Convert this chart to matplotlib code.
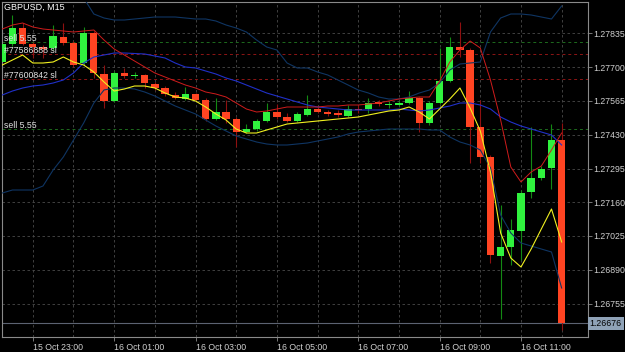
import numpy as np
import pandas as pd
import matplotlib.pyplot as plt
from matplotlib.transforms import blended_transform_factory

# GBPUSD M15 bars, 15 Oct 22:15 .. 16 Oct 12:00
bar_times = pd.date_range('2024-10-15 22:15', '2024-10-16 12:00', freq='15min')

opens = [1.27721, 1.27793, 1.27857, 1.27793, 1.27781, 1.27777, 1.27821, 1.27797, 1.27717, 1.27837,
         1.27673, 1.27565, 1.27677, 1.27667, 1.27669, 1.27633, 1.27617, 1.27589, 1.27573, 1.27593,
         1.27569, 1.27493, 1.27521, 1.27493, 1.27441, 1.27453, 1.27485, 1.27521, 1.27501, 1.27485,
         1.27509, 1.27533, 1.27519, 1.27517, 1.27505, 1.27533, 1.27533, 1.27561, 1.27551, 1.27549,
         1.27557, 1.27577, 1.27477, 1.27557, 1.27645, 1.27781, 1.27769, 1.27461, 1.27341, 1.26945,
         1.26981, 1.27045, 1.27201, 1.27257, 1.27297, 1.27409]
highs = [1.27809, 1.27909, 1.27877, 1.27801, 1.27789, 1.27869, 1.27877, 1.27805, 1.27861, 1.27845,
         1.27709, 1.27685, 1.27697, 1.27681, 1.27673, 1.27641, 1.27625, 1.27601, 1.27621, 1.27597,
         1.27577, 1.27577, 1.27569, 1.27501, 1.27473, 1.27493, 1.27557, 1.27553, 1.27517, 1.27521,
         1.27589, 1.27541, 1.27529, 1.27529, 1.27549, 1.27549, 1.27577, 1.27569, 1.27565, 1.27565,
         1.27605, 1.27581, 1.27565, 1.27777, 1.27821, 1.27881, 1.27777, 1.27569, 1.27349, 1.27149,
         1.27093, 1.27209, 1.27461, 1.27305, 1.27473, 1.27477]
lows = [1.27713, 1.27785, 1.27789, 1.27737, 1.27737, 1.27769, 1.27789, 1.27701, 1.27709, 1.27657,
        1.27537, 1.27561, 1.27657, 1.27657, 1.27617, 1.27609, 1.27585, 1.27573, 1.27569, 1.27565,
        1.27485, 1.27489, 1.27477, 1.27381, 1.27437, 1.27445, 1.27481, 1.27493, 1.27481, 1.27481,
        1.27505, 1.27517, 1.27505, 1.27501, 1.27501, 1.27517, 1.27517, 1.27545, 1.27537, 1.27545,
        1.27553, 1.27441, 1.27469, 1.27553, 1.27641, 1.27741, 1.27317, 1.27317, 1.26917, 1.26693,
        1.26909, 1.26929, 1.27177, 1.27249, 1.27213, 1.26649]
closes = [1.27793, 1.27857, 1.27793, 1.27781, 1.27773, 1.27825, 1.27797, 1.27709, 1.27837, 1.27677,
          1.27565, 1.27677, 1.27665, 1.27669, 1.27637, 1.27617, 1.27593, 1.27577, 1.27593, 1.27569,
          1.27493, 1.27521, 1.27493, 1.27441, 1.27453, 1.27485, 1.27521, 1.27501, 1.27485, 1.27513,
          1.27533, 1.27521, 1.27515, 1.27509, 1.27533, 1.27529, 1.27557, 1.27553, 1.27553, 1.27557,
          1.27577, 1.27477, 1.27557, 1.27645, 1.27781, 1.27769, 1.27461, 1.27341, 1.26949, 1.26981,
          1.27049, 1.27197, 1.27257, 1.27293, 1.27409, 1.26676]

# indicator lines
ma_red = [1.27853, 1.27869, 1.27877, 1.27861, 1.27853, 1.27849, 1.27845, 1.27841, 1.27845, 1.27849,
          1.27809, 1.27773, 1.27749, 1.27725, 1.27701, 1.27677, 1.27661, 1.27645, 1.27629, 1.27617,
          1.27601, 1.27593, 1.27581, 1.27557, 1.27533, 1.27521, 1.27525, 1.27533, 1.27541, 1.27541,
          1.27541, 1.27541, 1.27545, 1.27545, 1.27549, 1.27549, 1.27553, 1.27557, 1.27565, 1.27573,
          1.27577, 1.27581, 1.27581, 1.27645, 1.27721, 1.27769, 1.27805, 1.27777, 1.27649, 1.27489,
          1.27301, 1.27241, 1.27281, 1.27305, 1.27369, 1.27437]
ma_yellow = [1.27709, 1.27729, 1.27749, 1.27717, 1.27717, 1.27721, 1.27741, 1.27721, 1.27709, 1.27681,
             1.27641, 1.27605, 1.27613, 1.27625, 1.27625, 1.27617, 1.27597, 1.27581, 1.27577, 1.27565,
             1.27541, 1.27513, 1.27489, 1.27453, 1.27437, 1.27437, 1.27449, 1.27461, 1.27473, 1.27477,
             1.27481, 1.27485, 1.27489, 1.27493, 1.27497, 1.27501, 1.27509, 1.27517, 1.27525, 1.27529,
             1.27541, 1.27521, 1.27493, 1.27533, 1.27573, 1.27617, 1.27537, 1.27445, 1.27281, 1.27037,
             1.26937, 1.26901, 1.26973, 1.27053, 1.27133, 1.27001]
bb_mid = [1.27589, 1.27605, 1.27617, 1.27625, 1.27629, 1.27637, 1.27649, 1.27677, 1.27717, 1.27741,
          1.27749, 1.27757, 1.27757, 1.27755, 1.27753, 1.27745, 1.27737, 1.27717, 1.27701, 1.27697,
          1.27685, 1.27673, 1.27657, 1.27645, 1.27629, 1.27613, 1.27597, 1.27585, 1.27573, 1.27561,
          1.27549, 1.27541, 1.27537, 1.27533, 1.27529, 1.27529, 1.27529, 1.27529, 1.27529, 1.27533,
          1.27529, 1.27525, 1.27529, 1.27537, 1.27545, 1.27557, 1.27557, 1.27549, 1.27533, 1.27501,
          1.27481, 1.27465, 1.27453, 1.27441, 1.27429, 1.27389]
bb_upper = [1.28169, 1.28161, 1.28149, 1.28137, 1.28129, 1.28109, 1.28081, 1.28029, 1.27977, 1.27913,
            1.27897, 1.27889, 1.27889, 1.27893, 1.27897, 1.27901, 1.27901, 1.27901, 1.27897, 1.27893,
            1.27893, 1.27885, 1.27869, 1.27857, 1.27841, 1.27809, 1.27781, 1.27769, 1.27717, 1.27697,
            1.27697, 1.27681, 1.27669, 1.27649, 1.27629, 1.27609, 1.27597, 1.27581, 1.27573, 1.27573,
            1.27581, 1.27597, 1.27609, 1.27637, 1.27689, 1.27713, 1.27717, 1.27721, 1.27841, 1.27897,
            1.27913, 1.27913, 1.27909, 1.27901, 1.27893, 1.27945]
bb_lower = [1.27197, 1.27209, 1.27209, 1.27209, 1.27225, 1.27289, 1.27341, 1.27409, 1.27477, 1.27557,
            1.27609, 1.27617, 1.27617, 1.27613, 1.27601, 1.27585, 1.27565, 1.27545, 1.27529, 1.27513,
            1.27489, 1.27465, 1.27445, 1.27425, 1.27413, 1.27401, 1.27393, 1.27389, 1.27389, 1.27393,
            1.27397, 1.27405, 1.27413, 1.27421, 1.27433, 1.27441, 1.27445, 1.27449, 1.27453, 1.27453,
            1.27453, 1.27453, 1.27449, 1.27449, 1.27421, 1.27401, 1.27389, 1.27369, 1.27297, 1.27109,
            1.27037, 1.26997, 1.26985, 1.26973, 1.26961, 1.26817]

# open orders drawn on the chart
order_prices = [1.27800, 1.27753, 1.27652, 1.27452]
order_labels = ['sell 5.55', '#77586888 sl', '#77600842 sl', 'sell 5.55']
order_colors = ['#1d6b1d', '#8e1515', '#8e1515', '#1d6b1d']

price_levels = [1.26755, 1.26890, 1.27025, 1.27160, 1.27295, 1.27430, 1.27565, 1.27700, 1.27835]

plt.rcParams['font.family'] = ['Liberation Sans', 'DejaVu Sans']
FS = 6.3

fig = plt.figure(figsize=(6.25, 3.52), dpi=100, facecolor='black')
ax = fig.add_axes([2 / 625, 15 / 352, 586 / 625, 335.5 / 352], facecolor='black')

o = np.array(opens)
h = np.array(highs)
l = np.array(lows)
c = np.array(closes)
x = np.arange(len(o))
up = c >= o

# grid: every hour and every price level
grid_style = dict(color='#4a4a4a', lw=0.6, ls=(0, (3, 3)), zorder=0)
for i, t in enumerate(bar_times):
    if t.minute == 0:
        ax.axvline(i, **grid_style)
for lvl in price_levels:
    ax.axhline(lvl, **grid_style)

# order lines with their labels
for p, lab, col in zip(order_prices, order_labels, order_colors):
    ax.axhline(p, color=col, lw=0.7, ls=(0, (3, 3)), zorder=1)
    ax.annotate(lab, xy=(0.004, p), xycoords=('axes fraction', 'data'),
                xytext=(0, 1), textcoords='offset points', va='baseline', ha='left',
                color='#e0e0e0', fontsize=FS, zorder=6)

# current price line
ax.axhline(c[-1], color='#5c6372', lw=0.8, zorder=1)

# candles
ax.vlines(x[up], l[up], h[up], color='#138a13', lw=0.8, zorder=2)
ax.vlines(x[~up], l[~up], h[~up], color='#8f1010', lw=0.8, zorder=2)
body_lo = np.minimum(o, c)
body_h = np.maximum(np.abs(c - o), 0.00003)
ax.bar(x[up], body_h[up], bottom=body_lo[up], width=0.72, color='#30f23e', zorder=3)
ax.bar(x[~up], body_h[~up], bottom=body_lo[~up], width=0.72, color='#ff4422', zorder=3)

# indicators
ax.plot(x, bb_upper, color='#0f3563', lw=0.8, zorder=4)
ax.plot(x, bb_lower, color='#0f3563', lw=0.8, zorder=4)
ax.plot(x, bb_mid, color='#2030c8', lw=0.8, zorder=4)
ax.plot(x, ma_red, color='#d01c1c', lw=0.7, zorder=5)
ax.plot(x, ma_yellow, color='#f0f020', lw=0.8, zorder=5)

ax.set_xlim(-0.03, 57.59)
ax.set_ylim(1.26621, 1.27963)

# price axis on the right
ax.yaxis.tick_right()
ax.set_yticks(price_levels)
ax.set_yticklabels([f'{p:.5f}' for p in price_levels])
ax.tick_params(axis='y', colors='#8a8a8a', labelcolor='#cfcfcf', labelsize=FS,
               length=3, width=0.6, pad=1)

# time axis: label every two hours
lab_pos = [i for i, t in enumerate(bar_times) if t.minute == 0 and t.hour % 2 == 1]
ax.set_xticks(lab_pos)
ax.set_xticklabels([bar_times[i].strftime('%d %b %H:%M') for i in lab_pos])
for t in ax.get_xticklabels():
    t.set_ha('left')
ax.tick_params(axis='x', colors='#8a8a8a', labelcolor='#cfcfcf', labelsize=FS,
               length=3, width=0.6, pad=1.5)

for s in ax.spines.values():
    s.set_color('#8a8a8a')
    s.set_linewidth(0.8)

# last price box
trans = blended_transform_factory(ax.transAxes, ax.transData)
ax.text(1.003, c[-1], f'{c[-1]:.5f}', transform=trans, va='center', ha='left',
        fontsize=FS, color='black', clip_on=False, zorder=10,
        bbox=dict(boxstyle='square,pad=0.25', fc='#8fa2b7', ec='none'))

fig.text(4 / 625, 1 - 7.5 / 352, 'GBPUSD, M15', color='white', fontsize=6.5, va='center')

fig.savefig('out.png', dpi=100, facecolor='black')
